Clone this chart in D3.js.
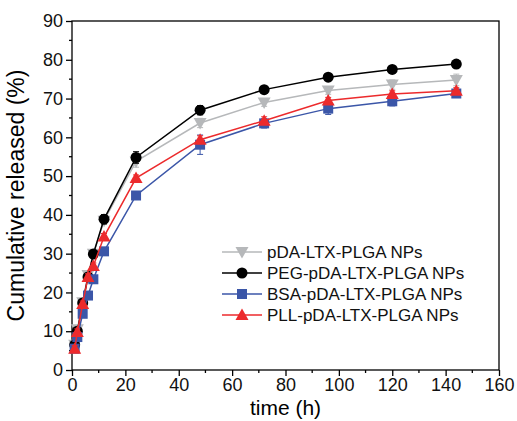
<!DOCTYPE html>
<html>
<head>
<meta charset="utf-8">
<script src="https://cdn.jsdelivr.net/npm/d3@7"></script>
<style>
  body { margin: 0; background: #fff; }
  svg { font-family: "Liberation Sans", Arial, sans-serif; }
</style>
</head>
<body>
<svg id="chart" width="517" height="421"></svg>
<script>
// sampling times (h)
const times = [1, 2, 4, 6, 8, 12, 24, 48, 72, 96, 120, 144];

const pdaValues = [6.5, 10.5, 17.5, 24.5, 30, 38.5, 53.8, 63.7, 69.0, 72.1, 73.6, 74.8];
const pdaErr    = [0.8, 0.8, 0.8, 0.8, 1.0, 1.0, 1.5, 1.2, 1.0, 1.0, 1.2, 1.5];
const pegValues = [6.5, 10.0, 17.3, 24.0, 29.9, 38.9, 54.8, 67.0, 72.3, 75.5, 77.5, 78.9];
const pegErr    = [0.8, 0.8, 0.8, 0.8, 1.0, 1.2, 1.5, 1.2, 0.8, 0.6, 0.6, 0.6];
const bsaValues = [5.5, 8.5, 14.5, 19.2, 23.4, 30.6, 45.0, 58.1, 63.6, 67.4, 69.3, 71.3];
const bsaErr    = [0.8, 0.8, 0.8, 0.8, 0.8, 0.8, 1.0, 2.5, 1.2, 1.5, 1.2, 1.0];
const pllValues = [5.5, 9.8, 17.0, 24.0, 26.8, 34.4, 49.5, 59.4, 64.3, 69.5, 71.2, 72.0];
const pllErr    = [0.8, 0.8, 0.8, 0.8, 0.8, 0.8, 0.8, 1.0, 1.0, 0.8, 0.8, 0.8];

const seriesNames = ["pDA-LTX-PLGA NPs", "PEG-pDA-LTX-PLGA NPs", "BSA-pDA-LTX-PLGA NPs", "PLL-pDA-LTX-PLGA NPs"];
const xTicks = [0, 20, 40, 60, 80, 100, 120, 140, 160];
const yTicks = [0, 10, 20, 30, 40, 50, 60, 70, 80, 90];

const series = [
    { name: seriesNames[0], values: pdaValues, err: pdaErr, color: "#b6b8ba", shape: "down" },
    { name: seriesNames[1], values: pegValues, err: pegErr, color: "#000000", shape: "circle" },
    { name: seriesNames[2], values: bsaValues, err: bsaErr, color: "#3b56a8", shape: "square" },
    { name: seriesNames[3], values: pllValues, err: pllErr, color: "#ec2a2c", shape: "up" }
];

const svg = d3.select("#chart");
const margin = { top: 21, right: 18, bottom: 51, left: 72 };
const W = 517, H = 421;

const x = d3.scaleLinear().domain([0, 160]).range([margin.left, W - margin.right]);
const y = d3.scaleLinear().domain([0, 90]).range([H - margin.bottom, margin.top]);

// frame
svg.append("rect")
    .attr("x", x(0)).attr("y", y(90))
    .attr("width", x(160) - x(0)).attr("height", y(0) - y(90))
    .attr("fill", "none").attr("stroke", "#000").attr("stroke-width", 1.3);

// axes
const xAxis = d3.axisBottom(x).tickValues(xTicks).tickSize(6).tickPadding(2);
const yAxis = d3.axisLeft(y).tickValues(yTicks).tickSize(6).tickPadding(3);

const gx = svg.append("g").attr("transform", `translate(0,${y(0)})`).call(xAxis);
const gy = svg.append("g").attr("transform", `translate(${x(0)},0)`).call(yAxis);
[gx, gy].forEach(g => {
    g.select(".domain").remove();
    g.selectAll("line").attr("stroke-width", 1.3);
    g.selectAll("text").attr("font-size", 18).attr("fill", "#111");
});

// minor ticks
svg.append("g").selectAll("line")
    .data(d3.range(10, 160, 20))
    .join("line")
    .attr("x1", d => x(d)).attr("x2", d => x(d))
    .attr("y1", y(0)).attr("y2", y(0) + 3)
    .attr("stroke", "#000").attr("stroke-width", 1.3);
svg.append("g").selectAll("line")
    .data(d3.range(5, 90, 10))
    .join("line")
    .attr("y1", d => y(d)).attr("y2", d => y(d))
    .attr("x1", x(0)).attr("x2", x(0) - 3)
    .attr("stroke", "#000").attr("stroke-width", 1.3);

// axis titles
svg.append("text")
    .attr("x", (x(0) + x(160)) / 2).attr("y", 415)
    .attr("text-anchor", "middle").attr("font-size", 21)
    .text("time (h)");
svg.append("text")
    .attr("transform", `translate(24,${(y(0) + y(90)) / 2}) rotate(-90)`)
    .attr("text-anchor", "middle").attr("font-size", 23)
    .text("Cumulative released (%)");

const drawMarker = (g, shape, color) => {
    if (shape === "circle") {
        g.append("circle").attr("r", 5.5).attr("fill", color);
    } else if (shape === "square") {
        g.append("rect").attr("x", -5).attr("y", -5).attr("width", 10).attr("height", 10).attr("fill", color);
    } else if (shape === "up") {
        g.append("path").attr("d", "M0,-6.5L6.5,5L-6.5,5Z").attr("fill", color);
    } else {
        g.append("path").attr("d", "M0,6.5L6.5,-5L-6.5,-5Z").attr("fill", color);
    }
};

const line = d3.line().x(d => x(d[0])).y(d => y(d[1]));

series.forEach(s => {
    const pts = times.map((t, i) => [t, s.values[i], s.err[i]]);
    const g = svg.append("g");

    g.append("path")
        .attr("d", line(pts))
        .attr("fill", "none").attr("stroke", s.color).attr("stroke-width", 1.5);

    // error bars
    const eb = g.selectAll(".eb").data(pts).join("g").attr("class", "eb");
    eb.append("line")
        .attr("x1", d => x(d[0])).attr("x2", d => x(d[0]))
        .attr("y1", d => y(d[1] - d[2])).attr("y2", d => y(d[1] + d[2]))
        .attr("stroke", s.color).attr("stroke-width", 1);
    [1, -1].forEach(sign => {
        eb.append("line")
            .attr("x1", d => x(d[0]) - 3).attr("x2", d => x(d[0]) + 3)
            .attr("y1", d => y(d[1] + sign * d[2])).attr("y2", d => y(d[1] + sign * d[2]))
            .attr("stroke", s.color).attr("stroke-width", 1);
    });

    pts.forEach(d => {
        const m = g.append("g").attr("transform", `translate(${x(d[0])},${y(d[1])})`);
        drawMarker(m, s.shape, s.color);
    });
});

// legend
const legend = svg.append("g");
series.forEach((s, i) => {
    const ly = 252 + i * 21;
    const row = legend.append("g");
    row.append("line")
        .attr("x1", 222).attr("x2", 262).attr("y1", ly).attr("y2", ly)
        .attr("stroke", s.color).attr("stroke-width", 1.5);
    const m = row.append("g").attr("transform", `translate(242,${ly})`);
    drawMarker(m, s.shape, s.color);
    row.append("text")
        .attr("x", 267).attr("y", ly).attr("dy", "0.35em")
        .attr("font-size", 17).attr("fill", "#111")
        .text(s.name);
});
</script>
</body>
</html>
